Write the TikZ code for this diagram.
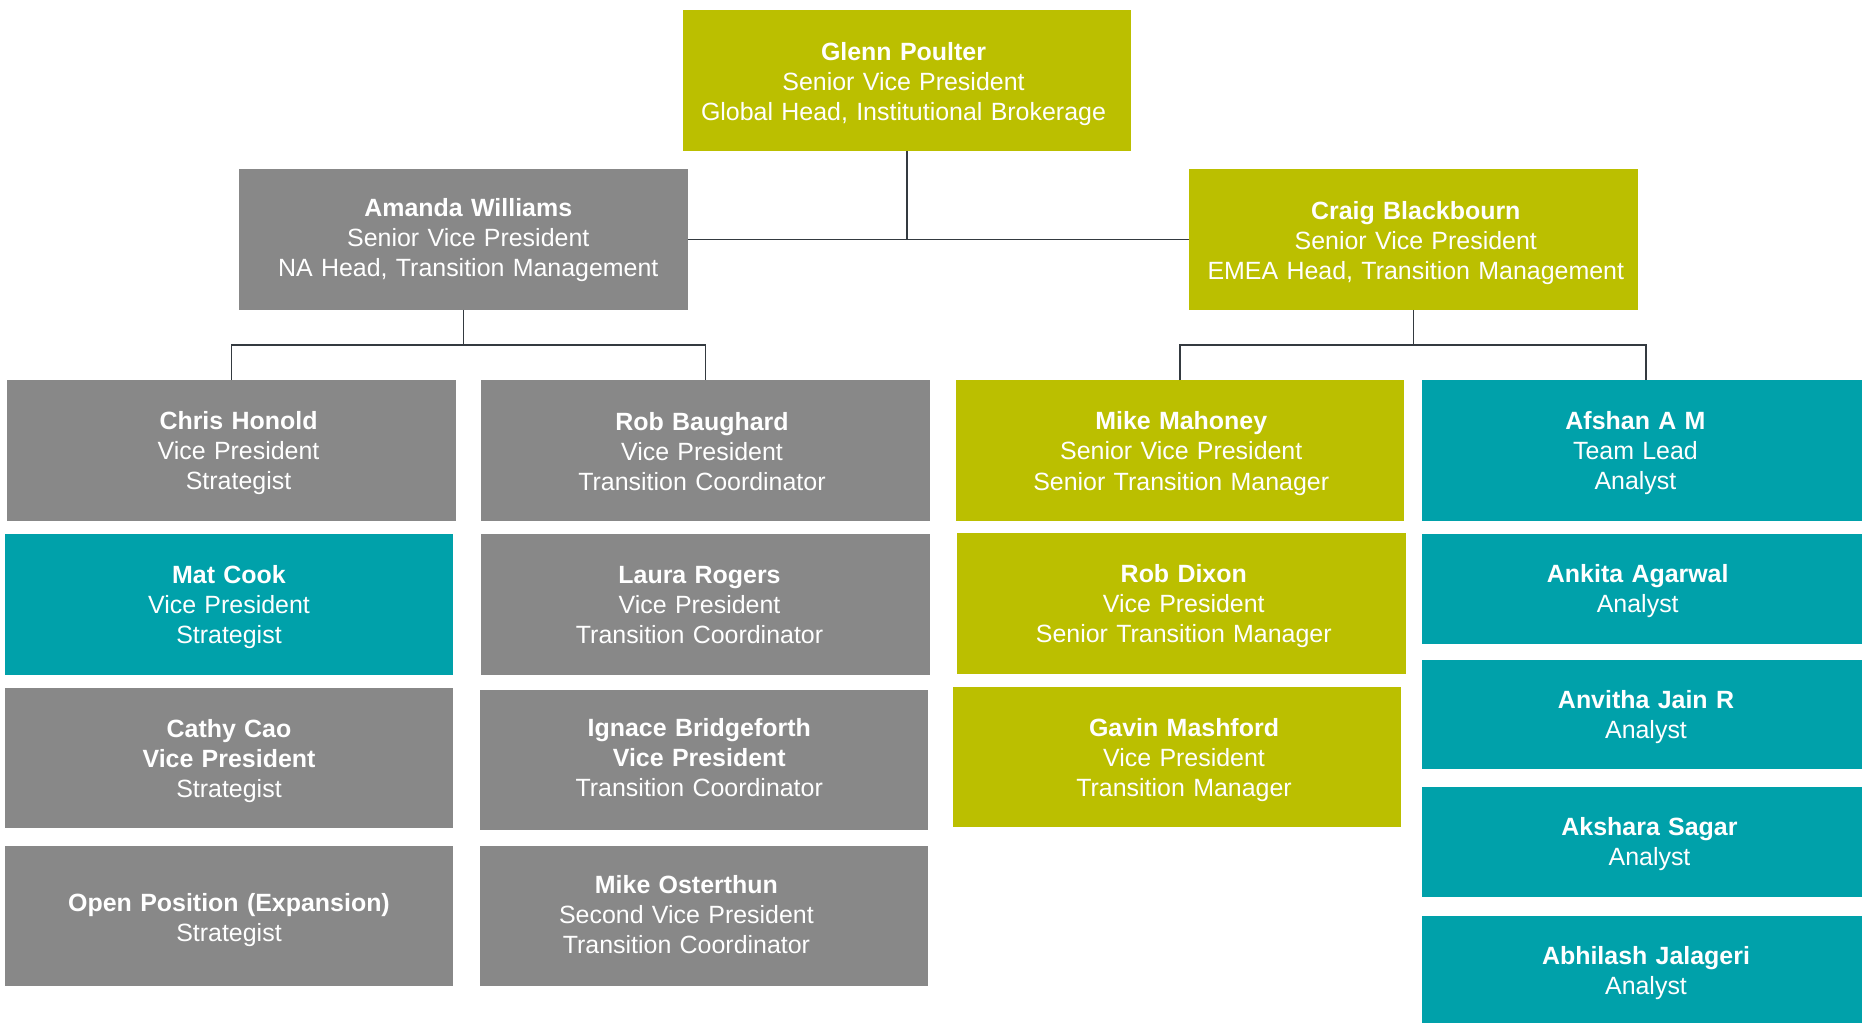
\documentclass[tikz,border=0pt]{standalone}
\usepackage{fontspec}
\setmainfont{Liberation Sans}
\usepackage{tikz}

\definecolor{tmolive}{RGB}{187,191,0}
\definecolor{tmgray}{RGB}{136,136,136}
\definecolor{tmteal}{RGB}{0,161,170}
\definecolor{tmline}{RGB}{52,58,64}

\tikzset{
  card/.style={inner sep=0pt, outer sep=0pt, align=center, text=white,
    text width=8.97cm, minimum height=2.82cm,
    font=\fontsize{14.2}{17.1}\selectfont, nudge={0pt}{0pt}},
  % nudge={dx}{dy}: moves the text inside its box
  nudge/.style 2 args={
    execute at begin node={\rule{0pt}{\dimexpr17pt+#2\relax}%
      \advance\leftskip by #1\relax\advance\rightskip by -#1\relax},
    execute at end node={\rule[\dimexpr-8pt+#2\relax]{0pt}{0pt}}},
  olivecard/.style={card, fill=tmolive},
  graycard/.style={card, fill=tmgray},
  tealcard/.style={card, fill=tmteal},
  link/.style={draw=tmline, line width=1.1pt}
}

\begin{document}
\begin{tikzpicture}[x=0.02cm,y=-0.02cm]

    \useasboundingbox (0,0) rectangle (1862,1023);

    % top
    \node[olivecard,nudge={-2pt}{2pt}] (glenn) at (907,80.5) {\textbf{Glenn Poulter}\\Senior Vice President\\Global Head, Institutional Brokerage};

    \node[graycard,nudge={2.7pt}{-0.9pt}] (amanda) at (463.5,239.5) {\textbf{Amanda Williams}\\Senior Vice President\\NA Head, Transition Management};
    \node[olivecard,nudge={1.3pt}{2.7pt}] (craig) at (1413.5,239.5) {\textbf{Craig Blackbourn}\\Senior Vice President\\EMEA Head, Transition Management};

    % NA team
    \node[graycard,nudge={4pt}{1.3pt}] (chris) at (231.5,450.5) {\textbf{Chris Honold}\\Vice President\\Strategist};
    \node[tealcard,nudge={0pt}{0.9pt}] (mat) at (229,604.5) {\textbf{Mat Cook}\\Vice President\\Strategist};
    \node[graycard,nudge={0pt}{1.8pt}] (cathy) at (229,758) {\textbf{Cathy Cao}\\\textbf{Vice President}\\Strategist};
    \node[graycard,nudge={0pt}{3.1pt}] (open) at (229,916) {\textbf{Open Position (Expansion)}\\Strategist};

    \node[graycard,nudge={-2pt}{1.9pt}] (robb) at (705.5,450.5) {\textbf{Rob Baughard}\\Vice President\\Transition Coordinator};
    \node[graycard,nudge={-3.4pt}{1.1pt}] (laura) at (705.5,604.5) {\textbf{Laura Rogers}\\Vice President\\Transition Coordinator};
    \node[graycard,nudge={-2.7pt}{-1.6pt}] (ignace) at (704,760) {\textbf{Ignace Bridgeforth}\\\textbf{Vice President}\\Transition Coordinator};
    \node[graycard,nudge={-10pt}{-0.7pt}] (mikeo) at (704,916) {\textbf{Mike Osterthun}\\Second Vice President\\Transition Coordinator};

    % EMEA team
    \node[olivecard,nudge={0.7pt}{1.8pt}] (mikem) at (1180,450.5) {\textbf{Mike Mahoney}\\Senior Vice President\\Senior Transition Manager};
    \node[olivecard,nudge={1.3pt}{1.3pt}] (robd) at (1181.5,603.5) {\textbf{Rob Dixon}\\Vice President\\Senior Transition Manager};
    \node[olivecard,nudge={4pt}{2.3pt}] (gavin) at (1177,757) {\textbf{Gavin Mashford}\\Vice President\\Transition Manager};

    \node[tealcard,nudge={-6pt}{1.1pt}] (afshan) at (1646,450.5) {\textbf{Afshan A M}\\Team Lead\\Analyst};
    \node[tealcard,minimum height=2.2cm,nudge={-4.7pt}{0.8pt}] (ankita) at (1646,589) {\textbf{Ankita Agarwal}\\Analyst};
    \node[tealcard,minimum height=2.18cm,nudge={0pt}{1.5pt}] (anvitha) at (1646,714.5) {\textbf{Anvitha Jain R}\\Analyst};
    \node[tealcard,minimum height=2.2cm,nudge={2pt}{1.1pt}] (akshara) at (1646,842) {\textbf{Akshara Sagar}\\Analyst};
    \node[tealcard,minimum height=2.2cm,nudge={0pt}{0.4pt}] (abhilash) at (1646,971) {\textbf{Abhilash Jalageri}\\Analyst};

    % connectors
    \coordinate (nabus) at (463.5,345);
    \coordinate (emeabus) at (1413.5,345);

    \draw[link] (glenn.south) -- (glenn.south |- amanda.east);
    \draw[link] (amanda.east) -- (craig.west);

    \draw[link] (amanda.south) -- (nabus);
    \draw[link] (chris.north) |- (nabus) -| (robb.north);

    \draw[link] (craig.south) -- (emeabus);
    \draw[link] (mikem.north) |- (emeabus) -| (afshan.north);

\end{tikzpicture}
\end{document}
